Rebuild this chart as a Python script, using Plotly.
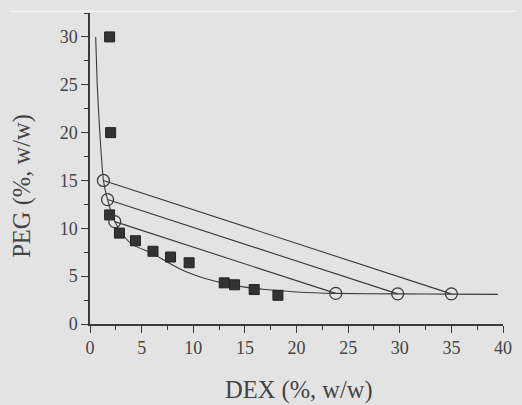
import plotly.graph_objects as go

# experimental binodal points (squares)
exp_dex = [1.9, 2.0, 1.9, 2.85, 4.4, 6.1, 7.8, 9.6, 13.0, 14.0, 15.9, 18.2]
exp_peg = [30.0, 20.0, 11.4, 9.5, 8.7, 7.6, 7.0, 6.4, 4.3, 4.1, 3.6, 3.0]

# fitted binodal curve
fit_dex = [0.55, 0.7, 0.95, 1.3, 1.7, 2.4, 3.2, 4.1, 6.0, 7.6, 9.2, 11.0, 12.9, 15.0, 17.0, 20.0, 23.8, 30.0, 35.0, 39.5]
fit_peg = [30.0, 25.0, 20.0, 15.0, 13.0, 10.7, 9.3, 8.3, 7.4, 6.4, 5.5, 4.8, 4.26, 3.85, 3.6, 3.35, 3.2, 3.15, 3.12, 3.1]

# tie-line end points (open circles): top phase and bottom phase
top_dex = [1.3, 1.7, 2.4]
top_peg = [15.0, 13.0, 10.7]
bot_dex = [35.0, 29.8, 23.8]
bot_peg = [3.15, 3.15, 3.2]

x_ticks = [0, 5, 10, 15, 20, 25, 30, 35, 40]
y_ticks = [0, 5, 10, 15, 20, 25, 30]

ink = "#3a3a3a"
bg = "#e3e3e3"

fig = go.Figure()

fig.add_trace(go.Scatter(x=fit_dex, y=fit_peg, mode="lines",
                         line=dict(color=ink, width=1.1, shape="spline", smoothing=0.6),
                         hoverinfo="skip", showlegend=False))

for i in range(len(top_dex)):
    fig.add_trace(go.Scatter(x=[top_dex[i], bot_dex[i]], y=[top_peg[i], bot_peg[i]],
                             mode="lines", line=dict(color=ink, width=1.1),
                             showlegend=False))

fig.add_trace(go.Scatter(x=exp_dex, y=exp_peg, mode="markers",
                         marker=dict(symbol="square", size=10, color="#333333",
                                     line=dict(color="#222222", width=1)),
                         showlegend=False))

fig.add_trace(go.Scatter(x=top_dex + bot_dex, y=top_peg + bot_peg, mode="markers",
                         marker=dict(symbol="circle-open", size=12, color=ink,
                                     line=dict(width=1.3)),
                         showlegend=False))

axis_common = dict(
    showgrid=False, zeroline=False, showline=True, linecolor=ink, linewidth=1.5,
    ticks="outside", ticklen=7, tickwidth=1.3, tickcolor=ink,
    tickfont=dict(family="Liberation Serif", size=18, color="#444444"),
    minor=dict(ticks="outside", ticklen=4, tickwidth=1.2, tickcolor=ink, dtick=2.5),
)

fig.update_xaxes(range=[0, 40], tickvals=x_ticks, **axis_common)
fig.update_yaxes(range=[0, 32.5], tickvals=y_ticks, **axis_common)

fig.update_layout(
    width=522, height=405,
    margin=dict(l=90, r=10, t=13, b=81),
    paper_bgcolor=bg, plot_bgcolor=bg,
    shapes=[
        dict(type="line", xref="paper", yref="paper", x0=-0.195, x1=1.03,
             y0=1.006, y1=1.006, line=dict(color="#f4f4f4", width=1.5)),
    ],
    annotations=[
        dict(text="DEX (%, w/w)", xref="paper", yref="paper", x=0.507, y=-0.212,
             xanchor="center", yanchor="middle", showarrow=False,
             font=dict(family="Liberation Serif", size=24.5, color="#444444")),
        dict(text="PEG (%, w/w)", xref="paper", yref="paper", x=-0.165, y=0.444,
             xanchor="center", yanchor="middle", showarrow=False, textangle=-90,
             font=dict(family="Liberation Serif", size=24.5, color="#444444")),
    ],
)

fig.write_html("out.html")
